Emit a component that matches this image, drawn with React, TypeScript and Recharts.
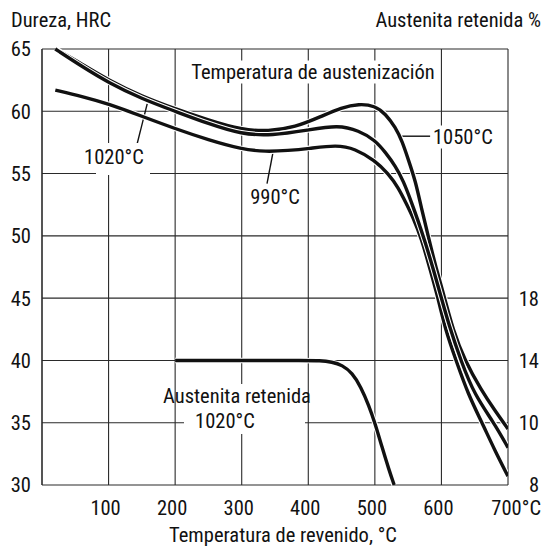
import { CartesianGrid, Line, LineChart, ReferenceLine, XAxis, YAxis } from "recharts";

// Dureza (HRC) vs temperatura de revenido, tres temperaturas de austenización
const T_1050 = [20, 60, 100, 150, 200, 250, 300, 340, 380, 420, 450, 476, 500, 516, 531, 541, 551, 561, 570, 580, 592, 605, 617, 635, 660, 680, 700];
const HRC_1050 = [65.0, 63.8, 62.5, 61.2, 60.2, 59.3, 58.5, 58.4, 58.7, 59.6, 60.3, 60.6, 60.45, 59.8, 58.7, 57.6, 56.0, 54.4, 52.2, 50.0, 47.4, 45.0, 42.5, 40.0, 37.6, 36.0, 34.5];

const T_1020 = [20, 60, 100, 150, 200, 250, 300, 345, 400, 445, 476, 500, 516, 531, 543, 555, 565, 575, 588, 600, 611, 629, 650, 679, 700];
const HRC_1020 = [65.0, 63.6, 62.3, 61.0, 60.0, 59.0, 58.15, 58.05, 58.5, 58.9, 58.45, 57.7, 56.7, 55.6, 54.4, 52.7, 51.2, 49.6, 47.3, 45.0, 42.9, 40.0, 37.2, 35.0, 33.0];

const T_990 = [20, 60, 100, 150, 200, 250, 300, 336, 370, 400, 443, 470, 500, 520, 535, 548, 558, 570, 583, 595, 606, 622, 640, 661, 680, 700];
const HRC_990 = [61.7, 61.2, 60.6, 59.6, 58.6, 57.7, 56.95, 56.75, 56.85, 57.0, 57.3, 57.0, 56.05, 55.0, 53.9, 52.5, 51.4, 49.8, 47.3, 45.0, 42.45, 40.0, 37.3, 35.0, 32.8, 30.7];

// austenita retenida (%) tras austenizar a 1020°C
const T_RA = [200, 300, 400, 416, 436, 451, 466, 479, 491, 500, 511, 521, 529];
const RA_PCT = [14, 14, 14, 14, 13.9, 13.7, 13.2, 12.3, 11.1, 10, 9.2, 8.5, 8.0];

const X_TICKS = [100, 200, 300, 400, 500, 600, 700];
const Y_TICKS = [30, 35, 40, 45, 50, 55, 60, 65];
// escala derecha (no lineal): % de austenita frente a la posición en HRC
const RA_TICK_POS = [30, 35, 40, 45];
const RA_TICK_PCT = [8, 10, 14, 18];

const FONT = "'Liberation Sans Narrow', 'Roboto Condensed', 'DejaVu Sans Condensed', 'Liberation Sans', sans-serif";
const FS = 20.5;
const INK = "#111";
const W = 542;
const H = 550;

const pctToAxis = (p: number) => {
  for (let i = 1; i < RA_TICK_PCT.length; i++) {
    if (p <= RA_TICK_PCT[i]) {
      const a = RA_TICK_PCT[i - 1];
      const b = RA_TICK_PCT[i];
      return RA_TICK_POS[i - 1] + ((p - a) / (b - a)) * (RA_TICK_POS[i] - RA_TICK_POS[i - 1]);
    }
  }
  return RA_TICK_POS[RA_TICK_POS.length - 1];
};

const zip = (ts: number[], vs: number[]) => ts.map((t, i) => ({ t, v: vs[i] }));

const series = [
  { key: "990", data: zip(T_990, HRC_990), axis: "left" },
  { key: "1050", data: zip(T_1050, HRC_1050), axis: "left" },
  { key: "1020", data: zip(T_1020, HRC_1020), axis: "left" },
  { key: "ra", data: zip(T_RA, RA_PCT.map(pctToAxis)), axis: "right" },
];

const LeftTick = ({ y, payload }: any) => (
  <text x={31} y={y} dy="0.36em" textAnchor="end" fontSize={FS} fontFamily={FONT} fill={INK}>
    {payload.value}
  </text>
);

const RightTick = ({ y, payload }: any) => (
  <text x={539} y={y} dy="0.36em" textAnchor="end" fontSize={FS} fontFamily={FONT} fill={INK}>
    {RA_TICK_PCT[RA_TICK_POS.indexOf(payload.value)]}
  </text>
);

const BottomTick = ({ x, payload }: any) => {
  const last = payload.value === 700;
  return (
    <text x={last ? 541 : x - 3} y={508} dy="0.36em" textAnchor={last ? "end" : "middle"} fontSize={FS} fontFamily={FONT} fill={INK}>
      {last ? "700°C" : payload.value}
    </text>
  );
};

type NoteProps = { x: number; y: number; text: string; anchor?: "start" | "middle" | "end"; bg?: boolean };

function Note({ x, y, text, anchor = "middle", bg = false }: NoteProps) {
  const shift = anchor === "middle" ? "-50%" : anchor === "end" ? "-100%" : "0";
  return (
    <div
      style={{
        position: "absolute",
        left: x,
        top: y,
        transform: `translate(${shift}, -50%)`,
        fontFamily: FONT,
        fontSize: FS,
        lineHeight: "23px",
        color: INK,
        whiteSpace: "nowrap",
        background: bg ? "#fff" : "transparent",
        padding: bg ? "0 2px" : 0,
      }}
    >
      {text}
    </div>
  );
}

export default function App() {
  return (
    <div style={{ position: "absolute", left: 0, top: 0, width: W, height: H, background: "#fff" }}>
      <LineChart width={W} height={H} margin={{ top: 49, right: 0, bottom: 0, left: 0 }}>
        <CartesianGrid stroke="#2a2a2a" strokeWidth={1.1} yAxisId="left" />
        <XAxis
          dataKey="t"
          type="number"
          domain={[0, 700]}
          ticks={X_TICKS}
          allowDataOverflow
          height={65}
          axisLine={false}
          tickLine={false}
          tick={<BottomTick />}
        />
        <YAxis
          yAxisId="left"
          type="number"
          domain={[30, 65]}
          ticks={Y_TICKS}
          width={42}
          axisLine={{ stroke: "#2a2a2a", strokeWidth: 1.1 }}
          tickLine={false}
          tick={<LeftTick />}
        />
        <YAxis
          yAxisId="right"
          orientation="right"
          type="number"
          domain={[30, 65]}
          ticks={RA_TICK_POS}
          width={34}
          axisLine={false}
          tickLine={false}
          tick={<RightTick />}
        />
        <ReferenceLine yAxisId="left" segment={[{ x: 158, y: 60.6 }, { x: 143, y: 57.4 }]} stroke={INK} strokeWidth={1.4} />
        <ReferenceLine yAxisId="left" segment={[{ x: 347, y: 56.7 }, { x: 338, y: 54.2 }]} stroke={INK} strokeWidth={1.4} />
        <ReferenceLine yAxisId="left" segment={[{ x: 539, y: 58.0 }, { x: 583, y: 58.0 }]} stroke={INK} strokeWidth={1.4} />
        {series.flatMap((s) => [
          <Line
            key={s.key + "-casing"}
            yAxisId={s.axis}
            data={s.data}
            dataKey="v"
            type="basis"
            stroke="#fff"
            strokeWidth={5.5}
            dot={false}
            activeDot={false}
            isAnimationActive={false}
          />,
          <Line
            key={s.key}
            yAxisId={s.axis}
            data={s.data}
            dataKey="v"
            type="basis"
            stroke={INK}
            strokeWidth={3.4}
            dot={false}
            activeDot={false}
            isAnimationActive={false}
          />,
        ])}
      </LineChart>

      <Note x={11} y={20} text="Dureza, HRC" anchor="start" />
      <Note x={541} y={20} text="Austenita retenida %" anchor="end" />
      <Note x={313} y={72} text="Temperatura de austenización" bg />
      <Note x={431} y={137} text="1050°C" anchor="start" bg />
      <div style={{ position: "absolute", left: 96, top: 143, width: 54, height: 32, background: "#fff" }} />
      <Note x={114} y={157} text="1020°C" />
      <Note x={275} y={197} text="990°C" />
      <div style={{ position: "absolute", left: 184, top: 384, width: 121, height: 50, background: "#fff" }} />
      <Note x={237} y={396} text="Austenita retenida" />
      <Note x={225} y={421} text="1020°C" />
      <Note x={283} y={535} text="Temperatura de revenido, °C" />
    </div>
  );
}
